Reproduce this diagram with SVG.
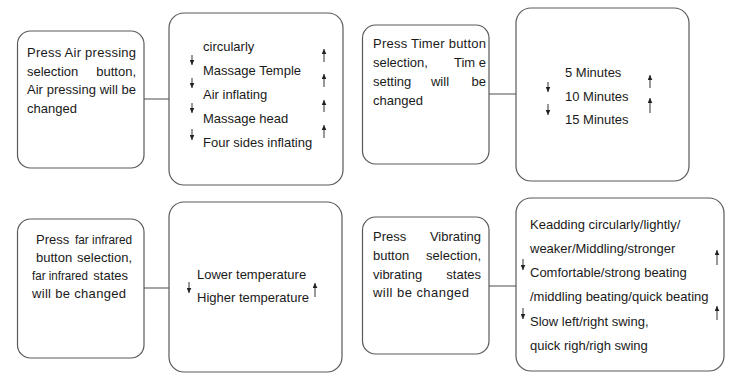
<svg xmlns="http://www.w3.org/2000/svg" width="729" height="373" viewBox="0 0 729 373">
<defs>
<marker id="ah" viewBox="0 0 6 6" refX="6" refY="3" markerWidth="5" markerHeight="5" markerUnits="userSpaceOnUse" orient="auto">
<path d="M0,0.2 L6,3 L0,5.8 Z" fill="#222"/>
</marker>
<style>
.box{fill:#fff;stroke:#5a5a5a;stroke-width:1.2}
.t{font-family:"Liberation Sans",Arial,sans-serif;font-size:13px;fill:#1a1a1a}
.n{font-family:"Liberation Sans",Arial,sans-serif;font-size:12px;fill:#1a1a1a}
.ar{stroke:#333;stroke-width:1;fill:none;marker-end:url(#ah)}
.cn{stroke:#6a6a6a;stroke-width:1.2;fill:none}
</style>
</defs>
<rect width="729" height="373" fill="#fff"/>

<g id="connectors">
<line class="cn" x1="144" y1="99" x2="169" y2="99"/>
<line class="cn" x1="489" y1="94" x2="516" y2="94"/>
<line class="cn" x1="144" y1="288" x2="169" y2="288"/>
<line class="cn" x1="489" y1="286" x2="516" y2="286"/>
</g>

<g id="air-press">
<rect class="box" x="17.5" y="31" width="126.5" height="137" rx="13"/>
<text class="t" x="27" y="57" textLength="109" lengthAdjust="spacing">Press Air pressing</text>
<text class="t" x="27" y="75.5">selection</text>
<text class="t" x="136" y="75.5" text-anchor="end">button,</text>
<text class="t" x="27" y="94" textLength="109" lengthAdjust="spacing">Air pressing will be</text>
<text class="t" x="27" y="112.5">changed</text>
</g>

<g id="air-states">
<rect class="box" x="169" y="13" width="174" height="172" rx="15"/>
<text class="t" x="203" y="51">circularly</text>
<text class="t" x="203" y="75">Massage Temple</text>
<text class="t" x="203" y="99">Air inflating</text>
<text class="t" x="203" y="123">Massage head</text>
<text class="t" x="203" y="147">Four sides inflating</text>
<line class="ar" x1="192" y1="55" x2="192" y2="65"/>
<line class="ar" x1="192" y1="78" x2="192" y2="88"/>
<line class="ar" x1="192" y1="103" x2="192" y2="113"/>
<line class="ar" x1="192" y1="129" x2="192" y2="140"/>
<line class="ar" x1="324" y1="62" x2="324" y2="49"/>
<line class="ar" x1="324" y1="87" x2="324" y2="74"/>
<line class="ar" x1="324" y1="112" x2="324" y2="100"/>
<line class="ar" x1="324" y1="138" x2="324" y2="125"/>
</g>

<g id="timer-press">
<rect class="box" x="362.5" y="25" width="126.5" height="139" rx="13"/>
<text class="t" x="373" y="48" textLength="113" lengthAdjust="spacing">Press Timer button</text>
<text class="t" x="373" y="67">selection,</text>
<text class="t" x="486" y="67" text-anchor="end">Tim e</text>
<text class="t" x="373" y="86">setting</text>
<text class="t" x="440" y="86" text-anchor="middle">will</text>
<text class="t" x="486" y="86" text-anchor="end">be</text>
<text class="t" x="373" y="105">changed</text>
</g>

<g id="timer-states">
<rect class="box" x="516" y="8" width="173" height="173" rx="15"/>
<text class="t" x="565" y="77">5 Minutes</text>
<text class="t" x="565" y="101">10 Minutes</text>
<text class="t" x="565" y="124">15 Minutes</text>
<line class="ar" x1="548" y1="82" x2="548" y2="92"/>
<line class="ar" x1="548" y1="104" x2="548" y2="115"/>
<line class="ar" x1="650" y1="88" x2="650" y2="75"/>
<line class="ar" x1="650" y1="113" x2="650" y2="98"/>
</g>

<g id="infrared-press">
<rect class="box" x="17.5" y="219" width="126.5" height="139" rx="13"/>
<text class="t" x="36" y="244">Press</text>
<text class="n" x="75" y="244" textLength="57" lengthAdjust="spacingAndGlyphs">far infrared</text>
<text class="t" x="36" y="262">button</text>
<text class="t" x="132" y="262" text-anchor="end">selection,</text>
<text class="n" x="32" y="280" textLength="56" lengthAdjust="spacingAndGlyphs">far infrared</text>
<text class="t" x="128" y="280" text-anchor="end">states</text>
<text class="t" x="32" y="298" textLength="94" lengthAdjust="spacing">will be changed</text>
</g>

<g id="infrared-states">
<rect class="box" x="169" y="202" width="173" height="170" rx="15"/>
<text class="t" x="197" y="279">Lower temperature</text>
<text class="t" x="197" y="302">Higher temperature</text>
<line class="ar" x1="189" y1="282" x2="189" y2="293"/>
<line class="ar" x1="315" y1="297" x2="315" y2="283"/>
</g>

<g id="vibrate-press">
<rect class="box" x="362.5" y="217" width="126.5" height="137" rx="13"/>
<text class="t" x="373" y="241">Press</text>
<text class="t" x="481" y="241" text-anchor="end">Vibrating</text>
<text class="t" x="373" y="260">button</text>
<text class="t" x="481" y="260" text-anchor="end">selection,</text>
<text class="t" x="373" y="279">vibrating</text>
<text class="t" x="481" y="279" text-anchor="end">states</text>
<text class="t" x="373" y="297" textLength="96" lengthAdjust="spacing">will be changed</text>
</g>

<g id="vibrate-states">
<rect class="box" x="516" y="198" width="208" height="173" rx="15"/>
<text class="t" x="530" y="229">Keadding circularly/lightly/</text>
<text class="t" x="530" y="253">weaker/Middling/stronger</text>
<text class="t" x="530" y="277">Comfortable/strong beating</text>
<text class="t" x="530" y="301">/middling beating/quick beating</text>
<text class="t" x="530" y="326">Slow left/right swing,</text>
<text class="t" x="530" y="350">quick righ/righ swing</text>
<line class="ar" x1="523" y1="259" x2="523" y2="270"/>
<line class="ar" x1="523" y1="308" x2="523" y2="319"/>
<line class="ar" x1="717" y1="265" x2="717" y2="250"/>
<line class="ar" x1="717" y1="320" x2="717" y2="306"/>
</g>
</svg>
